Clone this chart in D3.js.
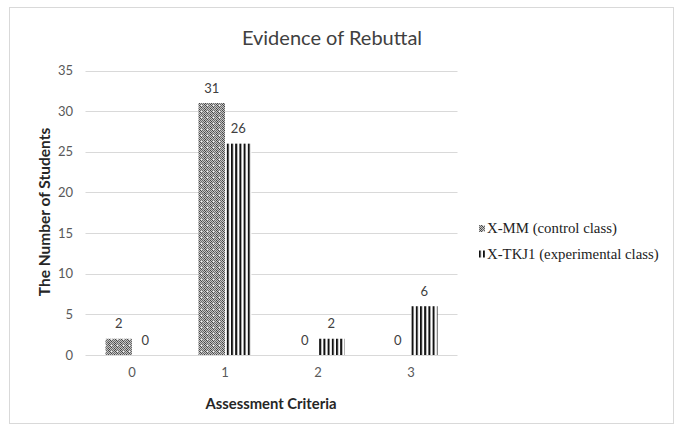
<!DOCTYPE html>
<html><head><meta charset="utf-8">
<script src="https://cdn.jsdelivr.net/npm/d3@7"></script>
<style>body{margin:0;background:#fff}</style>
</head><body>
<svg id="c" width="683" height="430"></svg>
<script>
const categories = ["0","1","2","3"];
const seriesNames = ["X-MM (control class)", "X-TKJ1 (experimental class)"];
const controlValues = [2, 31, 0, 0];
const experimentalValues = [0, 26, 2, 6];
const yTicks = [0,5,10,15,20,25,30,35];

const svg = d3.select("#c");
const font = "Lato, 'Open Sans', sans-serif";
const defs = svg.append("defs");

// checker pattern for control
const p1 = defs.append("pattern").attr("id","pCtl").attr("patternUnits","userSpaceOnUse").attr("width",6).attr("height",6);
p1.append("rect").attr("width",6).attr("height",6).attr("fill","#c4c4c4");
[[0,0],[2,0],[4,0],[1,1],[3,1],[5,1],[0,2],[2,2],[4,2],[1,3],[5,3],[0,4],[2,4],[4,4],[1,5],[3,5],[5,5]].forEach(([a,b],k)=>{
  p1.append("rect").attr("x",a).attr("y",b).attr("width",1).attr("height",1).attr("fill",k%3===0?"#444":"#6a6a6a");
});
p1.append("rect").attr("x",3).attr("y",3).attr("width",1).attr("height",1).attr("fill","#eee");

// vertical stripes for experimental
const p2 = defs.append("pattern").attr("id","pExp").attr("patternUnits","userSpaceOnUse").attr("width",4.2).attr("height",4);
p2.append("rect").attr("width",4.2).attr("height",4).attr("fill","#fff");
p2.append("rect").attr("x",0).attr("width",2).attr("height",4).attr("fill","#111");

// outer border
svg.append("rect").attr("x",9.5).attr("y",7.5).attr("width",664).attr("height",416)
  .attr("fill","#fff").attr("stroke","#d9d9d9");

const x0 = d3.scaleBand().domain(categories).range([85.5, 457.5]).paddingInner(0.43).paddingOuter(0.215);
const x1 = d3.scaleBand().domain([0,1]).range([0, x0.bandwidth()]);
const y = d3.scaleLinear().domain([0,35]).range([355, 70.5]);

// gridlines
svg.append("g").selectAll("line").data(yTicks).join("line")
  .attr("x1",85.5).attr("x2",457.5)
  .attr("y1",d=>Math.round(y(d))+0.5).attr("y2",d=>Math.round(y(d))+0.5)
  .attr("stroke","#d9d9d9").attr("stroke-width",1);

// y tick labels
const yAxis = d3.axisLeft(y).tickValues(yTicks).tickSize(0).tickPadding(0);
const gy = svg.append("g").attr("transform","translate(73,0)").call(yAxis);
gy.select(".domain").remove();
gy.selectAll("text").attr("font-family",font).attr("font-size",13).attr("fill","#595959");

// x tick labels
const xAxis = d3.axisBottom(x0).tickSize(0).tickPadding(0);
const gx = svg.append("g").attr("transform","translate(0,368)").call(xAxis);
gx.select(".domain").remove();
gx.selectAll("text").attr("font-family",font).attr("font-size",13).attr("fill","#595959");

const series = [controlValues, experimentalValues];
const fills = ["url(#pCtl)","url(#pExp)"];
series.forEach((vals, si) => {
  const g = svg.append("g");
  g.selectAll("rect").data(vals).join("rect")
    .attr("x",(d,i)=>x0(categories[i])+x1(si))
    .attr("width",x1.bandwidth())
    .attr("y",d=>y(d)).attr("height",d=>y(0)-y(d))
    .attr("fill",fills[si]);
  g.selectAll("text").data(vals).join("text")
    .attr("x",(d,i)=>x0(categories[i])+x1(si)+x1.bandwidth()/2)
    .attr("y",d=>y(d)-10.5)
    .attr("text-anchor","middle")
    .attr("font-family",font).attr("font-size",13).attr("fill","#404040")
    .text(d=>d);
});

// title
svg.append("text").attr("x",332).attr("y",45).attr("text-anchor","middle")
  .attr("font-family",font).attr("font-size",20).attr("fill","#404040").text("Evidence of Rebuttal");

// axis titles
svg.append("text").attr("transform","translate(50,212) rotate(-90)").attr("text-anchor","middle")
  .attr("font-family",font).attr("font-weight","bold").attr("font-size",15.5).attr("fill","#262626")
  .text("The Number of Students");
svg.append("text").attr("x",271).attr("y",409).attr("text-anchor","middle")
  .attr("font-family",font).attr("font-weight","bold").attr("font-size",14.8).attr("fill","#262626")
  .text("Assessment Criteria");

// legend
const lg = svg.append("g");
seriesNames.forEach((n,i)=>{
  const yy = 233 + i*25.5;
  lg.append("rect").attr("x",479).attr("y",yy-8).attr("width",6).attr("height",7).attr("fill",fills[i]);
  lg.append("text").attr("x",487).attr("y",yy).attr("font-family","'Liberation Serif', serif")
    .attr("font-size",14.8).attr("fill","#222").text(n);
});
</script>
</body></html>
